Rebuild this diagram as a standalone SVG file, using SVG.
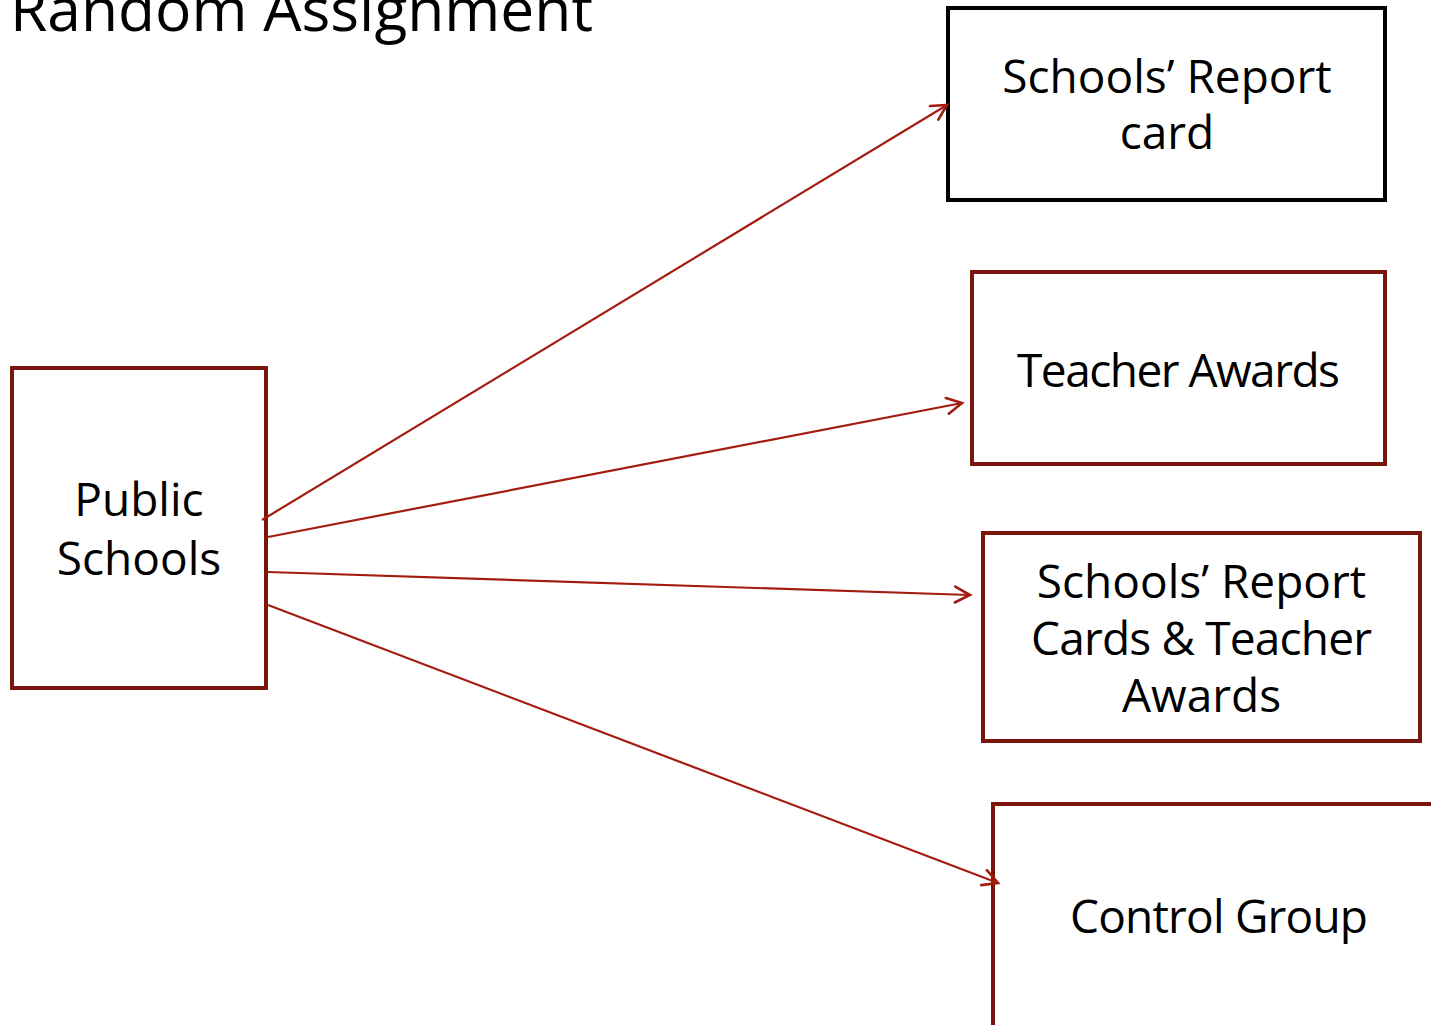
<svg xmlns="http://www.w3.org/2000/svg" width="1431" height="1025" viewBox="0 0 1431 1025">
  <defs>
    <style>
      .lbl { font-family: "Open Sans", "Noto Sans", "DejaVu Sans", sans-serif; font-size: 46px; fill: #000; text-anchor: middle; }
      .title { font-family: "Open Sans", "Noto Sans", "DejaVu Sans", sans-serif; font-size: 60.5px; fill: #000; }
      .box { fill: #fff; stroke: #7b160c; stroke-width: 4; }
      .box-dark { fill: #fff; stroke: #000; stroke-width: 4; }
      .conn { stroke: #a41c10; stroke-width: 2.2; fill: none; marker-end: url(#arrow); }
    </style>
    <marker id="arrow" markerUnits="userSpaceOnUse" markerWidth="30" markerHeight="30" refX="0" refY="0" viewBox="-20 -15 30 30" orient="auto" overflow="visible">
      <path d="M-15,-8 L0,0 L-15,8" fill="none" stroke="#a41c10" stroke-width="2.6" stroke-linecap="round" stroke-linejoin="miter"/>
    </marker>
  </defs>
  <rect width="1431" height="1025" fill="#fff"/>

  <!-- heading, partly above the top edge -->
  <text class="title" x="10" y="31">Random Assignment</text>

  <g id="public-schools">
    <rect class="box" x="12" y="368" width="254" height="320"/>
    <text class="lbl" x="139" y="516">Public</text>
    <text class="lbl" x="139" y="575">Schools</text>
  </g>

  <g id="report-card">
    <rect class="box-dark" x="948" y="8" width="437" height="192"/>
    <text class="lbl" x="1167" y="93">Schools’ Report</text>
    <text class="lbl" x="1167" y="149">card</text>
  </g>

  <g id="teacher-awards">
    <rect class="box" x="972" y="272" width="413" height="192"/>
    <text class="lbl" x="1178.5" y="387" textLength="323">Teacher Awards</text>
  </g>

  <g id="report-and-awards">
    <rect class="box" x="983" y="533" width="437" height="208"/>
    <text class="lbl" x="1201.5" y="598">Schools’ Report</text>
    <text class="lbl" x="1201.5" y="655" textLength="341">Cards &amp; Teacher</text>
    <text class="lbl" x="1201.5" y="712">Awards</text>
  </g>

  <g id="control-group">
    <rect class="box" x="993" y="804" width="460" height="260"/>
    <text class="lbl" x="1219" y="933" textLength="298">Control Group</text>
  </g>

  <g id="connectors">
    <line class="conn" x1="262" y1="520" x2="947" y2="105"/>
    <line class="conn" x1="268" y1="537" x2="962" y2="403"/>
    <line class="conn" x1="268" y1="572" x2="970" y2="595"/>
    <line class="conn" x1="268" y1="605" x2="998" y2="883"/>
  </g>
</svg>
